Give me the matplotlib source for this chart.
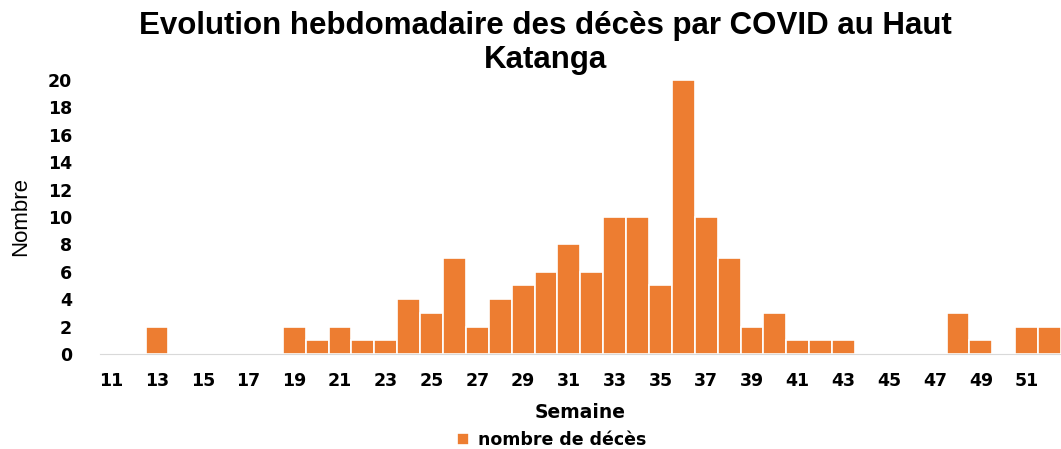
import matplotlib
matplotlib.use("Agg")
import matplotlib.pyplot as plt

weeks = list(range(11, 53))
deaths = [0, 0, 2, 0, 0, 0, 0, 0, 2, 1,
          2, 1, 1, 4, 3, 7, 2, 4, 5, 6,
          8, 6, 10, 10, 5, 20, 10, 7, 2, 3,
          1, 1, 1, 0, 0, 0, 0, 3, 1, 0,
          2, 2]
xtick_labels = [str(w) for w in range(11, 53, 2)]

fig = plt.figure(figsize=(10.61, 4.49), dpi=100)
ax = fig.add_axes([0.094, 0.2116, 0.906, 0.6104])

ax.bar(weeks, deaths, width=1.0, color="#ED7D31", edgecolor="white",
       linewidth=1.2, label="nombre de décès", zorder=2)

ax.set_xlim(10.5, 52.5)
ax.set_ylim(0, 20)
ax.set_yticks(range(0, 21, 2))
ax.set_xticks(range(11, 53, 2))
ax.set_xticklabels(xtick_labels)

for s in ["top", "right", "left"]:
    ax.spines[s].set_visible(False)
ax.spines["bottom"].set_color("#d9d9d9")
ax.tick_params(length=0, labelsize=12.5)
ax.tick_params(axis="x", pad=13)
ax.tick_params(axis="y", pad=20)
for lab in ax.get_xticklabels() + ax.get_yticklabels():
    lab.set_fontweight("bold")

ax.set_xlabel("Semaine", fontsize=13.5, fontweight="bold", labelpad=9)
ax.set_ylabel("Nombre", fontsize=16, family="Liberation Sans", labelpad=12)

fig.suptitle("Evolution hebdomadaire des décès par COVID au Haut\nKatanga",
             x=0.514, y=0.975, fontsize=22.5, fontweight="bold",
             family="Liberation Sans", linespacing=1.15)

ax.legend(loc="upper center", bbox_to_anchor=(0.47, -0.225), frameon=False,
          prop={"weight": "bold", "size": 12.5}, handlelength=0.7,
          handleheight=0.7, handletextpad=0.5)

fig.savefig("out.png", dpi=100)
